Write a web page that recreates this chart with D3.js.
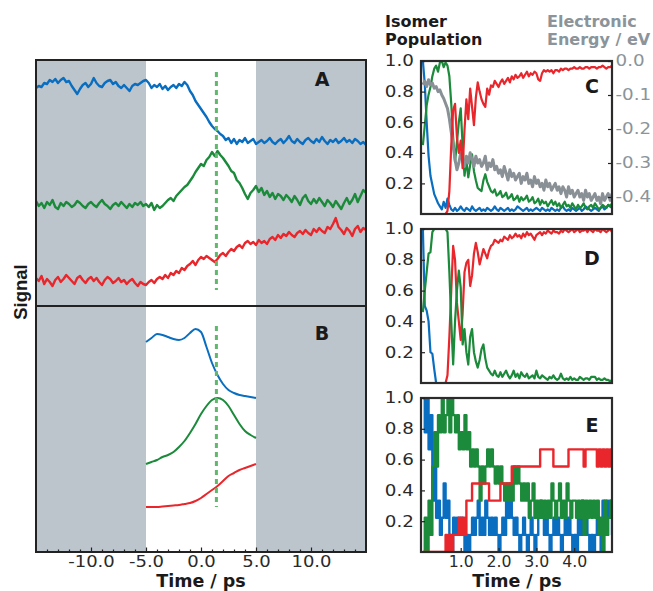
<!DOCTYPE html>
<html><head><meta charset="utf-8">
<script src="https://cdn.jsdelivr.net/npm/d3@7"></script>
<style>html,body{margin:0;padding:0;background:#fff;overflow:hidden}</style>
</head><body>
<svg id="chart" width="653" height="591"></svg>
<script>
// ---------------- DATA ----------------
// Panel A: measured signals (arbitrary units), t = -15 .. 15 ps every 0.25 ps
const timeA = d3.range(121).map(i => -15 + i * 0.25);
const signalA_blue = [218,220,219,223,222,226,224,227,223,226,228,224,225,220,216,212,217,221,223,219,222,228,223,220,219,223,225,226,222,224,220,218,221,218,215,220,222,221,223,225,226,
223,218,221,219,222,217,220,216,219,221,218,222,220,224,221,
215,211,205,201,197,193,189,184,180,177,175,172,170,166,168,163,167,162,
166,164,168,163,165,167,162,164,166,163,165,168,164,162,165,167,163,166,170,165,163,167,164,162,166,168,165,163,167,164,169,165,162,166,164,167,163,165,168,164,166,163,167,165,162,164,161];
const signalA_green = [105,100,103,98,104,101,106,99,97,103,100,104,102,99,101,105,103,100,98,102,104,101,99,103,106,102,100,97,101,103,100,104,101,98,102,99,103,101,104,100,102,
99,103,96,101,98,100,
103,106,108,105,110,113,116,119,121,
125,129,134,138,142,140,146,149,154,150,155,151,148,144,140,135,133,126,123,
118,112,107,113,116,120,114,118,111,115,109,113,107,112,110,106,111,108,104,110,106,101,108,111,105,102,107,103,108,104,100,106,103,99,105,101,97,103,108,102,106,112,104,110,116,113];
const signalA_red = [28,25,30,22,27,24,20,26,29,24,27,31,28,25,22,28,30,26,23,27,29,25,28,24,21,26,29,27,23,25,28,24,26,22,25,27,23,20,24,22,21,
24,26,23,27,29,27,31,28,33,31,35,33,38,36,40,42,
45,41,46,49,47,50,48,46,44,47,51,53,50,54,57,55,
59,61,58,63,65,62,64,61,66,63,65,62,67,69,66,71,68,72,70,74,71,69,73,75,72,76,73,71,77,74,78,75,73,79,77,82,88,79,76,72,78,75,70,77,80,74,78,76];

// Panel B: simulated signals, t = -5 .. 5 ps every 0.5 ps
const timeB = d3.range(21).map(i => -5 + i * 0.5);
const signalB_blue  = [210,214,218,217,215,213,212,214,219,223,220,205,189,177,168,162,159,157,156,155,154];
const signalB_green = [88,90,92,95,97,100,105,111,119,128,138,146,152,154,152,146,137,128,121,117,114];
const signalB_red   = [45,45,45,45.5,46,46.5,47,48,49,51,54,58,62,66,71,76,79,82,84,86,88];

const shadeWindows = [[-15, -5], [5, 15]];
const markerTime = 1.4;
const markerA = [16, 234];
const markerB = [45, 226];
const leftTicks = [-10, -5, 0, 5, 10];
const leftTickLabels = ["-10.0", "-5.0", "0.0", "5.0", "10.0"];

// Panels C, D: isomer populations, t = 0 .. 5 ps every 0.05 ps
const timeR = d3.range(101).map(i => i * 0.05);
const popC_blue = [1.0,0.85,0.6,0.38,0.25,0.19,0.13,0.1,0.07,0.05,0.03,0.08,0.04,0.1,0.06,0.03,0.02,0.04,0.02,0.03,0.05,
0.03,0.02,0.04,0.03,0.02,0.05,0.03,0.02,0.03,0.04,0.02,0.03,0.02,0.04,0.03,0.02,0.03,0.05,0.03,0.02,
0.04,0.03,0.02,0.03,0.04,0.02,0.03,0.02,0.03,0.05,0.04,0.03,0.02,0.03,0.04,0.02,0.03,0.02,0.03,0.04,
0.03,0.02,0.04,0.03,0.02,0.03,0.02,0.04,0.03,0.02,0.03,0.02,0.04,0.05,0.03,0.02,0.03,0.02,0.04,0.03,
0.02,0.03,0.04,0.02,0.03,0.05,0.04,0.03,0.02,0.03,0.04,0.03,0.02,0.04,0.05,0.03,0.04,0.06,0.05,0.04];
const popC_green = [0.45,0.58,0.71,0.78,0.83,0.9,0.95,0.97,0.93,0.99,1.0,0.96,0.99,0.97,0.9,0.72,0.5,0.34,0.47,0.6,0.69,0.45,0.25,0.35,0.24,0.32,0.39,0.28,0.22,0.17,0.16,0.15,0.22,0.26,0.21,0.18,0.15,
0.14,0.16,0.12,0.13,0.15,0.11,0.12,0.14,0.1,0.11,
0.13,0.09,0.1,0.12,0.08,0.11,0.09,0.1,0.12,0.08,
0.09,0.11,0.07,0.08,0.1,0.06,0.09,0.07,0.08,0.05,
0.07,0.09,0.06,0.08,0.05,0.07,0.04,0.06,0.08,0.05,
0.06,0.04,0.07,0.05,0.03,0.06,0.04,0.05,0.07,0.04,
0.03,0.05,0.06,0.04,0.07,0.05,0.03,0.04,0.06,0.05,
0.04,0.06,0.05,0.07];
const popC_red = [0,0,0,0,0,0,0,0,0,0,0,0,0,
0.02,0.15,0.45,0.68,0.72,0.5,0.4,0.48,0.3,0.55,0.75,0.62,0.82,0.7,0.58,0.76,0.86,0.8,0.75,0.72,0.7,0.82,0.78,0.84,0.83,0.87,0.85,0.83,
0.86,0.88,0.85,0.87,0.89,0.86,0.9,0.88,0.91,0.89,
0.9,0.92,0.89,0.91,0.93,0.9,0.92,0.91,0.93,0.92,
0.88,0.87,0.92,0.94,0.93,0.94,0.93,0.94,0.92,0.94,
0.94,0.93,0.95,0.94,0.95,0.95,0.94,0.95,0.95,0.96,
0.95,0.95,0.96,0.95,0.95,0.96,0.96,0.95,0.96,0.96,
0.96,0.95,0.96,0.96,0.97,0.96,0.95,0.96,0.96,0.97];
const energyC = [-0.07,-0.06,-0.075,-0.055,-0.07,-0.065,-0.08,-0.075,-0.09,-0.085,-0.1,-0.11,-0.125,-0.14,-0.17,-0.21,-0.25,-0.29,-0.32,-0.3,-0.27,
-0.29,-0.31,-0.28,-0.3,-0.27,-0.29,-0.31,-0.28,-0.3,-0.29,
-0.31,-0.3,-0.28,-0.32,-0.3,-0.31,-0.29,-0.32,-0.31,-0.33,
-0.32,-0.34,-0.31,-0.33,-0.35,-0.32,-0.34,-0.33,-0.35,-0.34,
-0.33,-0.36,-0.34,-0.35,-0.33,-0.36,-0.35,-0.37,-0.34,-0.36,
-0.35,-0.37,-0.36,-0.38,-0.35,-0.37,-0.36,-0.38,-0.37,-0.36,
-0.38,-0.37,-0.39,-0.37,-0.38,-0.4,-0.37,-0.39,-0.38,-0.4,
-0.39,-0.38,-0.4,-0.39,-0.41,-0.38,-0.4,-0.39,-0.41,-0.4,
-0.39,-0.41,-0.4,-0.42,-0.39,-0.41,-0.4,-0.39,-0.41,-0.39];

const popD_blue = [1.0,0.5,0.47,0.4,0.2,0.19,0.09,0.0];
const popD_green = [0.46,0.6,0.72,0.84,0.85,0.98,1.0,1.0,1.0,1.0,1.0,1.0,1.0,0.98,0.72,0.4,0.12,0.4,0.6,0.73,0.62,0.25,0.35,0.2,0.12,0.3,0.35,0.2,0.14,0.1,0.15,0.22,0.25,0.16,0.1,0.08,0.06,
0.05,0.08,0.05,0.04,0.07,0.04,0.06,0.08,0.05,0.03,
0.05,0.08,0.04,0.06,0.03,0.07,0.05,0.04,0.06,0.03,
0.04,0.05,0.03,0.08,0.04,0.03,0.05,0.04,0.03,0.02,
0.04,0.03,0.05,0.03,0.02,0.03,0.06,0.03,0.02,0.03,
0.02,0.04,0.02,0.03,0.02,0.02,0.04,0.03,0.02,0.03,
0.03,0.02,0.04,0.04,0.04,0.02,0.03,0.02,0.02,0.03,
0.02,0.02,0.01,0.02];
const popD_red = [0,0,0,0,0,0,0,0,0,0,0,0,0,
0.05,0.3,0.6,0.89,0.8,0.52,0.4,0.28,0.45,0.72,0.78,0.8,0.63,0.7,0.84,0.91,0.85,0.77,0.82,0.87,0.84,0.81,0.86,0.89,0.9,0.93,0.92,0.91,
0.93,0.92,0.95,0.94,0.93,0.96,0.94,0.95,0.97,0.95,
0.96,0.94,0.97,0.95,0.98,0.96,0.97,0.95,0.93,0.96,
0.97,0.98,0.96,0.98,0.97,0.99,0.98,0.97,0.99,0.98,
0.98,0.97,0.99,0.98,1.0,0.99,0.98,0.99,1.0,0.98,
0.99,1.0,0.98,0.99,0.99,1.0,0.98,1.0,0.99,0.98,
1.0,0.99,0.99,0.98,1.0,0.99,0.98,0.99,1.0,0.98];

// Panel E: number of trajectories (out of 9) in each isomer
const trajTotal = 9;
const countE_blue = [9,7,9,6,8,3,5,2,3,1,2,4,2,3,1,0,2,1,2,1,
2,1,0,1,0,1,2,1,2,3,
1,2,1,3,2,1,2,1,2,1,
0,1,2,1,3,2,4,2,1,2,
1,0,1,2,1,0,1,2,1,0,
1,2,3,2,1,2,1,0,1,2,
1,2,1,0,1,2,1,2,1,0,
1,0,2,1,3,1,2,1,0,1,
0,1,2,1,0,3,1,3,2,3,1];
const countE_green = [0,2,0,3,1,5,7,5,8,7,9,7,8,9,7,9,8,7,8,6,
7,6,8,6,7,5,6,5,6,5,
3,5,4,5,6,5,6,5,4,5,
4,5,4,3,4,3,4,3,5,4,
5,4,3,4,3,4,2,3,4,2,
3,2,3,2,3,2,3,2,4,3,
2,3,4,2,3,2,4,3,2,3,
3,2,3,2,3,1,3,2,3,2,
3,2,3,1,2,0,3,1,2,3,2];
const countE_red = [0,0,0,0,0,0,0,0,0,0,0,0,
1,0,1,0,1,1,1,2,
1,2,1,3,
3,3,4,
4,4,4,4,4,4,4,4,
3,3,3,3,3,3,
4,4,4,4,4,4,5,
5,5,5,5,5,5,5,5,5,5,5,5,5,5,
6,6,6,6,6,6,6,
5,5,5,5,5,5,5,5,
6,6,6,6,6,6,6,6,
5,6,6,6,6,6,
6,5,6,5,6,5,6,5,6,6];

const popTicks = [0.2, 0.4, 0.6, 0.8, 1.0];
const popTickLabels = ["0.2", "0.4", "0.6", "0.8", "1.0"];
const energyTicks = [0, -0.1, -0.2, -0.3, -0.4];
const energyTickLabels = ["0.0", "-0.1", "-0.2", "-0.3", "-0.4"];
const timeTicksR = [1, 2, 3, 4];
const timeTickLabelsR = ["1.0", "2.0", "3.0", "4.0"];

// ---------------- STYLE ----------------
const COL = {blue: "#0a6ec0", green: "#1b8a3a", red: "#e8262b", gray: "#899096",
             dash: "#5fb86b", shade: "#bcc4cc", box: "#222", text: "#2a2a2a", egray: "#8a949a"};
const TICK_FONT = "'DejaVu Sans', sans-serif";
const BOLD_FONT = "'DejaVu Sans', sans-serif";

const svg = d3.select("#chart");
const defs = svg.append("defs");
function clip(id, x, y, w, h) {
  defs.append("clipPath").attr("id", id).append("rect")
    .attr("x", x).attr("y", y).attr("width", w).attr("height", h);
  return `url(#${id})`;
}
function styleTicks(g, size = 15.5, stretch = 1.18) {
  g.select(".domain").remove();
  g.selectAll(".tick line").attr("stroke", COL.box).attr("stroke-width", 1.2);
  g.selectAll(".tick text").attr("font-family", TICK_FONT).attr("font-size", size)
    .attr("fill", COL.text).attr("transform", `scale(${stretch},1)`);
}
function panelLetter(sel, x, y, s) {
  sel.append("text").attr("x", x).attr("y", y).attr("text-anchor", "middle")
    .attr("font-family", BOLD_FONT).attr("font-weight", "bold").attr("font-size", 19)
    .attr("fill", "#1a1a1a").text(s);
}

// ---------------- LEFT PANELS ----------------
const L = {x0: 36, x1: 366, top: 60, mid: 306, bottom: 552};
const xL = d3.scaleLinear().domain([-15, 15]).range([L.x0, L.x1]);
const yA = d3.scaleLinear().domain([0, 246]).range([L.mid, L.top]);
const yB = d3.scaleLinear().domain([0, 246]).range([L.bottom, L.mid]);

const left = svg.append("g");
left.selectAll("rect.shade").data(shadeWindows).join("rect")
  .attr("x", d => xL(d[0])).attr("width", d => xL(d[1]) - xL(d[0]))
  .attr("y", L.top).attr("height", L.bottom - L.top).attr("fill", COL.shade);

const clipA = clip("clipA", L.x0, L.top, L.x1 - L.x0, L.mid - L.top);
const clipB = clip("clipB", L.x0, L.mid, L.x1 - L.x0, L.bottom - L.mid);

const lineA = d3.line().x((d, i) => xL(timeA[i])).y(d => yA(d));
const gA = left.append("g").attr("clip-path", clipA);
[[signalA_blue, COL.blue], [signalA_green, COL.green], [signalA_red, COL.red]].forEach(([s, c]) => {
  gA.append("path").datum(s).attr("d", lineA).attr("fill", "none").attr("stroke", c)
    .attr("stroke-width", 2.4).attr("stroke-linejoin", "round");
});
gA.append("line").attr("x1", xL(markerTime)).attr("x2", xL(markerTime))
  .attr("y1", yA(markerA[1])).attr("y2", yA(markerA[0]))
  .attr("stroke", COL.dash).attr("stroke-width", 3).attr("stroke-dasharray", "5,4");

const lineB = d3.line().x((d, i) => xL(timeB[i])).y(d => yB(d)).curve(d3.curveMonotoneX);
const gB = left.append("g").attr("clip-path", clipB);
[[signalB_blue, COL.blue], [signalB_green, COL.green], [signalB_red, COL.red]].forEach(([s, c]) => {
  gB.append("path").datum(s).attr("d", lineB).attr("fill", "none").attr("stroke", c)
    .attr("stroke-width", 2);
});
gB.append("line").attr("x1", xL(markerTime)).attr("x2", xL(markerTime))
  .attr("y1", yB(markerB[1])).attr("y2", yB(markerB[0]))
  .attr("stroke", COL.dash).attr("stroke-width", 3).attr("stroke-dasharray", "5,4");

left.append("rect").attr("x", L.x0).attr("y", L.top).attr("width", L.x1 - L.x0)
  .attr("height", L.bottom - L.top).attr("fill", "none").attr("stroke", COL.box).attr("stroke-width", 2);
left.append("line").attr("x1", L.x0).attr("x2", L.x1).attr("y1", L.mid).attr("y2", L.mid)
  .attr("stroke", COL.box).attr("stroke-width", 2);

const minorTicks = d3.range(-14, 15).filter(v => v % 5 !== 0);
const gMinor = left.append("g").attr("transform", `translate(0,${L.bottom})`)
  .call(d3.axisBottom(xL).tickValues(minorTicks).tickSize(-2.5).tickFormat(""));
styleTicks(gMinor);
const gMajor = left.append("g").attr("transform", `translate(0,${L.bottom})`)
  .call(d3.axisBottom(xL).tickValues(leftTicks).tickSize(-4.5).tickPadding(4)
    .tickFormat((d, i) => leftTickLabels[i]));
styleTicks(gMajor, 15, 1.2);

panelLetter(left, 322, 86, "A");
panelLetter(left, 322, 340, "B");
left.append("text").attr("transform", "translate(27,292) rotate(-90)").attr("text-anchor", "middle")
  .attr("font-family", "'Liberation Sans', Arial, sans-serif").attr("font-weight", "bold")
  .attr("font-size", 18.5).attr("fill", "#1a1a1a").text("Signal");
svg.append("text").attr("x", 201).attr("y", 587).attr("text-anchor", "middle")
  .attr("font-family", BOLD_FONT).attr("font-weight", "bold").attr("font-size", 17.5)
  .attr("fill", "#1a1a1a").text("Time / ps");

// ---------------- RIGHT PANELS ----------------
const R = {x0: 421, x1: 612};
const xR = d3.scaleLinear().domain([-0.05, 5.0]).range([R.x0, R.x1]);
const panels = {C: [61, 214], D: [229, 383], E: [398, 552]};
const letterY = {C: 93, D: 265, E: 432};

function drawPanel(name, series, curve) {
  const [top, bot] = panels[name];
  const y = d3.scaleLinear().domain([0, 1]).range([bot, top]);
  const g = svg.append("g");
  const cp = clip("clip" + name, R.x0, top, R.x1 - R.x0, bot - top);
  const gl = g.append("g").attr("clip-path", cp);
  series.forEach(s => {
    const ln = d3.line().x((d, i) => xR(timeR[i])).y(d => (s.scale || y)(d)).curve(curve);
    gl.append("path").datum(s.values).attr("d", ln).attr("fill", "none").attr("stroke", s.color)
      .attr("stroke-width", s.width || 2).attr("stroke-linejoin", "round");
  });
  g.append("rect").attr("x", R.x0).attr("y", top).attr("width", R.x1 - R.x0).attr("height", bot - top)
    .attr("fill", "none").attr("stroke", "#2b2b2b").attr("stroke-width", 2.2);
  const ga = g.append("g").attr("transform", `translate(${R.x0},0)`)
    .call(d3.axisLeft(y).tickValues(popTicks).tickSize(-4).tickPadding(6)
      .tickFormat((d, i) => popTickLabels[i]));
  styleTicks(ga);
  panelLetter(g, 592, letterY[name], name);
  return {g, y};
}

const yEnergy = d3.scaleLinear().domain([-0.45, 0]).range([panels.C[1], panels.C[0]]);
const pC = drawPanel("C", [
  {values: popC_blue, color: COL.blue, width: 2.2},
  {values: popC_green, color: COL.green, width: 2.2},
  {values: energyC, color: COL.gray, width: 3, scale: yEnergy},
  {values: popC_red, color: COL.red, width: 2.2}
], d3.curveLinear);
const gE = pC.g.append("g").attr("transform", `translate(${R.x1},0)`)
  .call(d3.axisRight(yEnergy).tickValues(energyTicks).tickSize(-4).tickPadding(3)
    .tickFormat((d, i) => energyTickLabels[i]));
styleTicks(gE);
gE.selectAll(".tick text").attr("fill", COL.egray);

drawPanel("D", [
  {values: popD_blue, color: COL.blue, width: 2.2},
  {values: popD_red, color: COL.red, width: 2.2},
  {values: popD_green, color: COL.green, width: 2.2}
], d3.curveLinear);

const pE = drawPanel("E", [
  {values: countE_blue.map(c => c / trajTotal), color: COL.blue, width: 2.4},
  {values: countE_green.map(c => c / trajTotal), color: COL.green, width: 2.4},
  {values: countE_red.map(c => c / trajTotal), color: COL.red, width: 2.4}
], d3.curveStepAfter);
const gT = pE.g.append("g").attr("transform", `translate(0,${panels.E[1]})`)
  .call(d3.axisBottom(xR).tickValues(timeTicksR).tickSize(-4).tickPadding(4)
    .tickFormat((d, i) => timeTickLabelsR[i]));
styleTicks(gT, 15, 1.05);

svg.append("text").attr("x", 517).attr("y", 587).attr("text-anchor", "middle")
  .attr("font-family", BOLD_FONT).attr("font-weight", "bold").attr("font-size", 17.5)
  .attr("fill", "#1a1a1a").text("Time / ps");

// Titles
const t1 = svg.append("text").attr("font-family", BOLD_FONT).attr("font-weight", "bold")
  .attr("font-size", 16).attr("fill", "#1a1a1a");
t1.append("tspan").attr("x", 385).attr("y", 27).text("Isomer");
t1.append("tspan").attr("x", 385).attr("y", 45).text("Population");
const t2 = svg.append("text").attr("font-family", BOLD_FONT).attr("font-weight", "bold")
  .attr("font-size", 16).attr("fill", COL.egray);
t2.append("tspan").attr("x", 547).attr("y", 27).text("Electronic");
t2.append("tspan").attr("x", 547).attr("y", 45).text("Energy / eV");
</script>
</body></html>
